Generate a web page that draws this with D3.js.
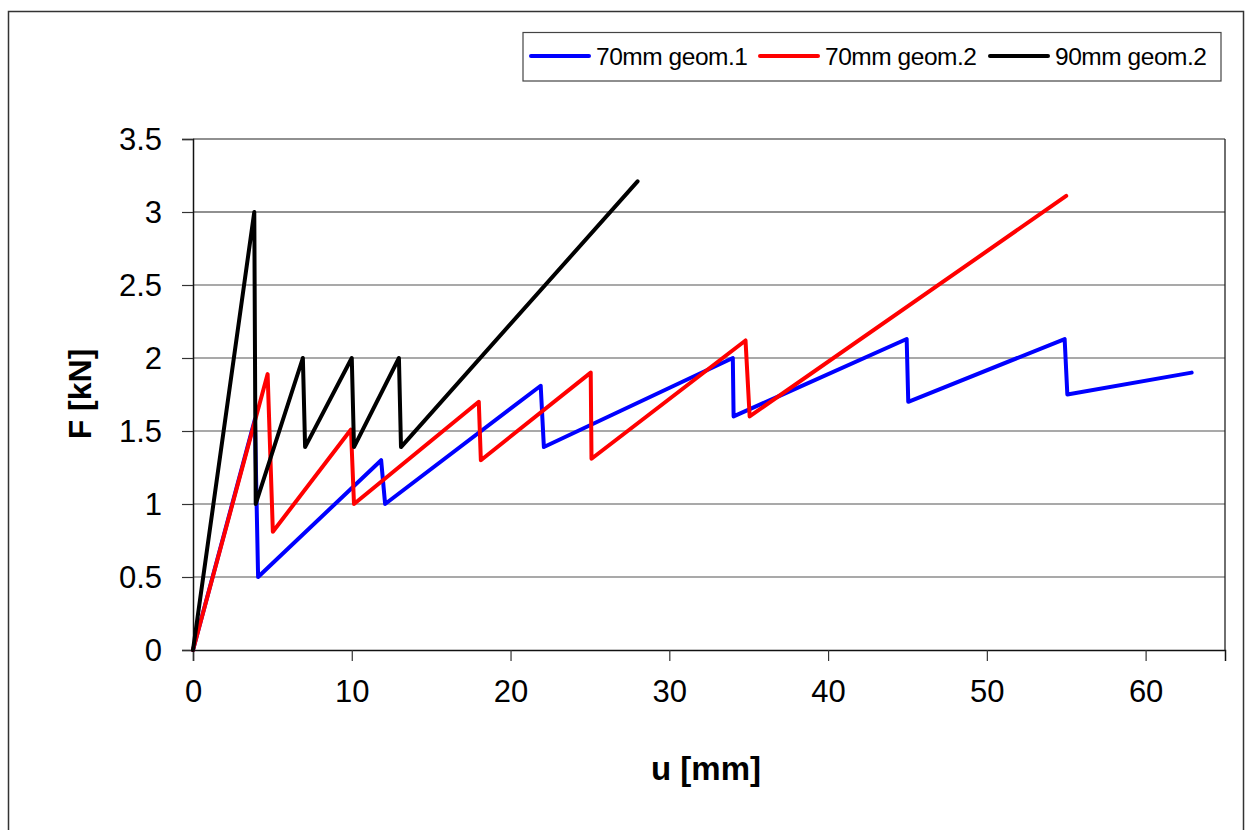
<!DOCTYPE html>
<html><head><meta charset="utf-8">
<script src="https://cdn.jsdelivr.net/npm/d3@7"></script>
<style>body{margin:0;background:#fff}svg{display:block;font-family:Arial,"Liberation Sans",sans-serif}</style>
</head><body><svg id="c" width="1246" height="830"></svg>
<script>
const seriesNames = ["70mm geom.1", "70mm geom.2", "90mm geom.2"];
const seriesColors = ["#0000ff", "#ff0000", "#000000"];
const blueU = [0, 3.9, 4.1, 11.85, 12.1, 21.9, 22.1, 34.0, 34.05, 44.95, 45.05, 54.9, 55.07, 62.9];
const blueF = [0, 1.58, 0.5, 1.3, 1.0, 1.81, 1.39, 2.0, 1.6, 2.13, 1.7, 2.13, 1.75, 1.9];
const redU = [0, 4.7, 5.03, 9.95, 10.14, 18.0, 18.13, 25.05, 25.1, 34.8, 35.06, 55.0];
const redF = [0, 1.89, 0.81, 1.51, 1.0, 1.7, 1.3, 1.9, 1.31, 2.12, 1.6, 3.11];
const blackU = [0, 3.86, 3.95, 6.92, 7.06, 10.0, 10.14, 12.97, 13.1, 28.0];
const blackF = [0, 3.0, 1.0, 2.0, 1.39, 2.0, 1.39, 2.0, 1.39, 3.21];
const xTicks = [0, 10, 20, 30, 40, 50, 60];
const yTicks = [0, 0.5, 1, 1.5, 2, 2.5, 3, 3.5];
const xTitle = "u [mm]", yTitle = "F [kN]";

const svg = d3.select("#c");
svg.append("rect").attr("x", 8.5).attr("y", 11.5).attr("width", 1235).attr("height", 830)
  .attr("fill", "#fff").attr("stroke", "#333").attr("stroke-width", 1.5);

const L = 193, R = 1225, T = 139, B = 650;
const x = d3.scaleLinear().domain([0, 65]).range([L, R]);
const y = d3.scaleLinear().domain([0, 3.5]).range([B, T]);

// gridlines
svg.append("g").selectAll("line").data(yTicks.filter(d => d > 0)).join("line")
  .attr("x1", L).attr("x2", R).attr("y1", d => y(d)).attr("y2", d => y(d))
  .attr("stroke", d => d >= 3 ? "#222" : "#555").attr("stroke-width", 1.2);
svg.append("line").attr("x1", R).attr("x2", R).attr("y1", T).attr("y2", B).attr("stroke", "#222").attr("stroke-width", 1.3);

const xAxis = svg.append("g").attr("transform", `translate(0,${B})`)
  .call(d3.axisBottom(x).tickValues(xTicks).tickSize(11).tickPadding(19).tickFormat(d3.format("d")));
const yAxis = svg.append("g").attr("transform", `translate(${L},0)`)
  .call(d3.axisLeft(y).tickValues(yTicks).tickSize(11).tickPadding(20).tickFormat(d => String(d)));
[xAxis, yAxis].forEach(g => {
  g.select(".domain").attr("stroke", "#111").attr("stroke-width", 1.5);
  g.selectAll(".tick line").attr("stroke", "#333").attr("stroke-width", 1.2);
  g.selectAll("text").attr("font-size", 31).attr("fill", "#000").attr("font-family", "Arial, Liberation Sans, sans-serif");
});
yAxis.selectAll("text").attr("dy", "0.35em");

svg.append("text").attr("x", 706).attr("y", 780).attr("text-anchor", "middle")
  .attr("font-size", 33).attr("font-weight", "bold").text(xTitle);
svg.append("text").attr("transform", "translate(91,394) rotate(-90)").attr("text-anchor", "middle")
  .attr("font-size", 32).attr("font-weight", "bold").text(yTitle);

const data = [
  blueU.map((u, i) => [u, blueF[i]]),
  redU.map((u, i) => [u, redF[i]]),
  blackU.map((u, i) => [u, blackF[i]])
];
const line = d3.line().x(d => x(d[0])).y(d => y(d[1]));
svg.append("g").selectAll("path").data(data).join("path")
  .attr("d", line).attr("fill", "none")
  .attr("stroke", (d, i) => seriesColors[i]).attr("stroke-width", 4)
  .attr("stroke-linejoin", "round").attr("stroke-linecap", "round");

// legend
const lg = svg.append("g");
lg.append("rect").attr("x", 523).attr("y", 32.5).attr("width", 698).attr("height", 48.5)
  .attr("fill", "#fff").attr("stroke", "#444").attr("stroke-width", 1.2);
const lx = [531, 760, 990];
seriesNames.forEach((n, i) => {
  lg.append("line").attr("x1", lx[i]).attr("x2", lx[i] + 58).attr("y1", 56).attr("y2", 56)
    .attr("stroke", seriesColors[i]).attr("stroke-width", 4).attr("stroke-linecap", "round");
  lg.append("text").attr("x", lx[i] + 65).attr("y", 65).attr("font-size", 24.5).attr("textLength", 152).text(n);
});
</script></body></html>
